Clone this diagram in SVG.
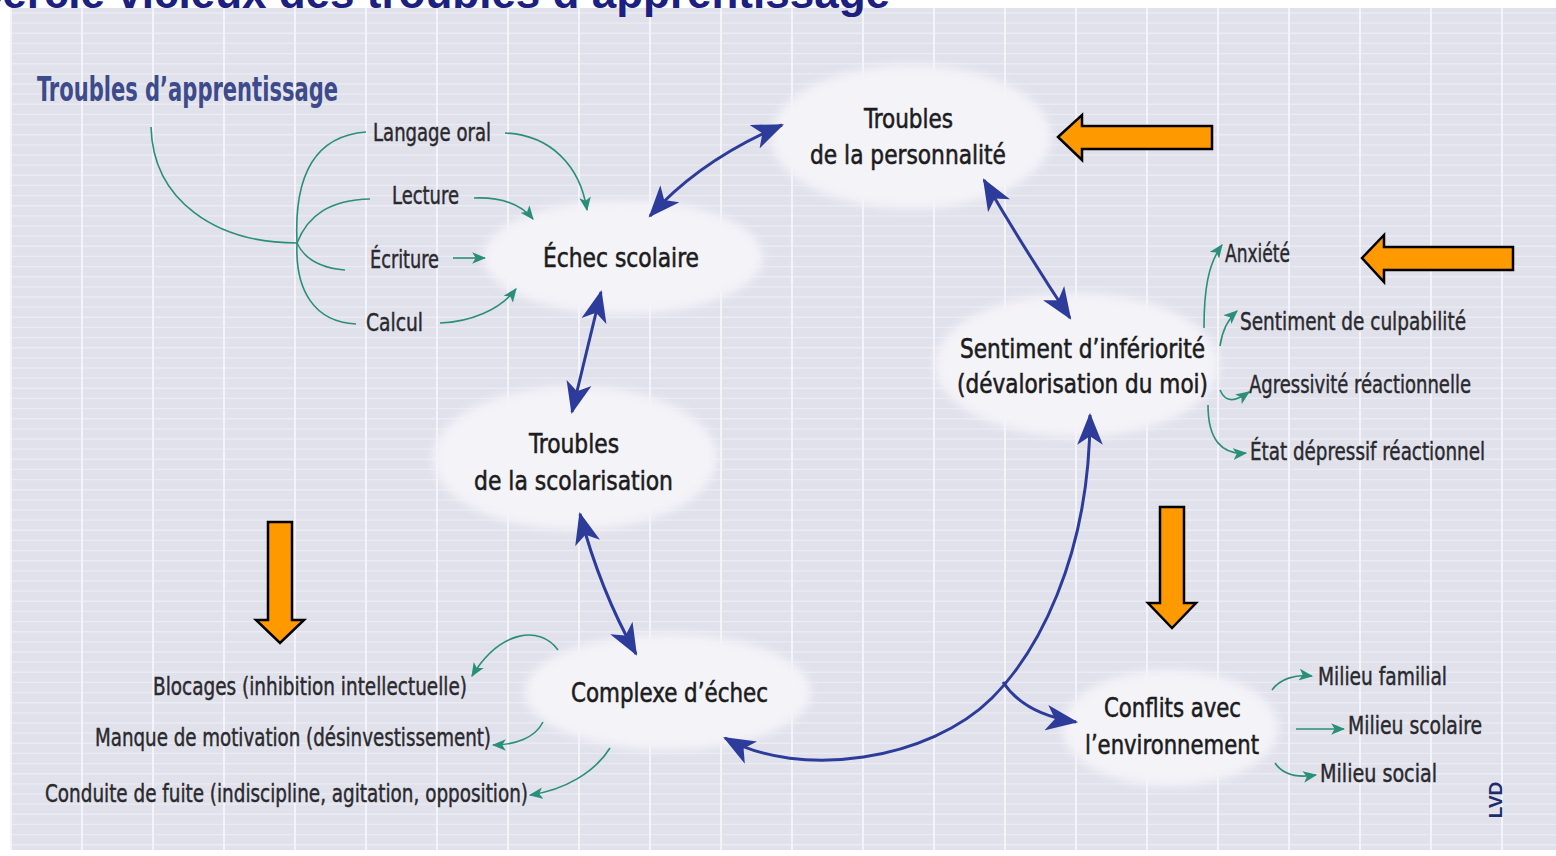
<svg xmlns="http://www.w3.org/2000/svg" width="1556" height="856" viewBox="0 0 1556 856">
<style>
.lbl{font-family:"Liberation Sans Narrow","DejaVu Sans Condensed","Liberation Sans",sans-serif;font-size:25px;fill:#2a2a2e;stroke:#2a2a2e;stroke-width:0.45}
.node{font-family:"Liberation Sans Narrow","DejaVu Sans Condensed","Liberation Sans",sans-serif;font-size:27px;fill:#1c1c20;stroke:#1c1c20;stroke-width:0.55}
.ell{fill:#f4f3f8;filter:url(#soft)}
.teal{fill:none;stroke:#2a8f78;stroke-width:1.6}
.tealA{fill:none;stroke:#2a8f78;stroke-width:1.6;marker-end:url(#tA)}
.blue{fill:none;stroke:#2d3c9a;stroke-width:3;marker-end:url(#bA)}
.blue2{fill:none;stroke:#2d3c9a;stroke-width:3;marker-end:url(#bA);marker-start:url(#bA)}
.orange{fill:#ff9900;stroke:#000;stroke-width:2.5}
</style>
<defs>
<pattern id="grid" patternUnits="userSpaceOnUse" x="10" y="8" width="71" height="71">
<rect width="71" height="71" fill="#e1e1ec"/>
<g stroke="#ebebf3" stroke-width="1.4">
<line x1="0" y1="5" x2="71" y2="5"/><line x1="0" y1="15.1" x2="71" y2="15.1"/><line x1="0" y1="25.3" x2="71" y2="25.3"/><line x1="0" y1="35.4" x2="71" y2="35.4"/><line x1="0" y1="45.6" x2="71" y2="45.6"/><line x1="0" y1="55.7" x2="71" y2="55.7"/><line x1="0" y1="65.9" x2="71" y2="65.9"/>
</g>
<line x1="1" y1="0" x2="1" y2="71" stroke="#f3f3f8" stroke-width="2"/>
</pattern>
<filter id="soft" x="-10%" y="-15%" width="120%" height="130%"><feGaussianBlur stdDeviation="5"/></filter>
<marker id="bA" markerUnits="userSpaceOnUse" viewBox="0 0 30 24" refX="28" refY="12" markerWidth="32" markerHeight="26" orient="auto-start-reverse">
<path d="M0,0 L30,12 L0,24 L8,12 Z" fill="#2d3c9a"/>
</marker>
<marker id="tA" markerUnits="userSpaceOnUse" viewBox="0 0 12 10" refX="11" refY="5" markerWidth="14" markerHeight="12" orient="auto">
<path d="M0,0 L12,5 L0,10 L3,5 Z" fill="#2a8f78"/>
</marker>
</defs>

<rect x="0" y="0" width="1556" height="856" fill="#ffffff"/>
<rect x="10" y="8" width="1546" height="842" fill="url(#grid)"/>

<text x="890" y="8" text-anchor="end" font-family="'Liberation Sans',sans-serif" font-weight="bold" font-size="44" fill="#1c2080">Cercle vicieux des troubles d’apprentissage</text>

<g id="header">
<text x="37" y="101" font-family="'Liberation Sans Narrow','DejaVu Sans Condensed','Liberation Sans',sans-serif" font-weight="bold" font-size="33" fill="#3d4b8b" textLength="301" lengthAdjust="spacingAndGlyphs">Troubles d’apprentissage</text>
</g>

<g id="ellipses">
<g id="n-personnalite"><ellipse class="ell" cx="911" cy="137" rx="140" ry="72"/>
<text class="node" x="864" y="128" textLength="89" lengthAdjust="spacingAndGlyphs">Troubles</text>
<text class="node" x="810" y="164" textLength="196" lengthAdjust="spacingAndGlyphs">de la personnalité</text></g>
<g id="n-echec"><ellipse class="ell" cx="623" cy="257" rx="140" ry="57"/>
<text class="node" x="543" y="267" textLength="156" lengthAdjust="spacingAndGlyphs">Échec scolaire</text></g>
<g id="n-scolarisation"><ellipse class="ell" cx="575" cy="458" rx="142" ry="72"/>
<text class="node" x="529" y="453" textLength="90" lengthAdjust="spacingAndGlyphs">Troubles</text>
<text class="node" x="474" y="490" textLength="199" lengthAdjust="spacingAndGlyphs">de la scolarisation</text></g>
<g id="n-complexe"><ellipse class="ell" cx="668" cy="692" rx="143" ry="58"/>
<text class="node" x="571" y="702" textLength="197" lengthAdjust="spacingAndGlyphs">Complexe d’échec</text></g>
<g id="n-sentiment"><ellipse class="ell" cx="1077" cy="365" rx="142" ry="72"/>
<text class="node" x="960" y="358" textLength="245" lengthAdjust="spacingAndGlyphs">Sentiment d’infériorité</text>
<text class="node" x="957" y="393" textLength="251" lengthAdjust="spacingAndGlyphs">(dévalorisation du moi)</text></g>
<g id="n-conflits"><ellipse class="ell" cx="1170" cy="728" rx="108" ry="58"/>
<text class="node" x="1104" y="717" textLength="137" lengthAdjust="spacingAndGlyphs">Conflits avec</text>
<text class="node" x="1085" y="754" textLength="174" lengthAdjust="spacingAndGlyphs">l’environnement</text></g>
</g>

<g id="labels">
<g id="l-langage"><text class="lbl" x="373" y="141" textLength="118" lengthAdjust="spacingAndGlyphs">Langage oral</text></g>
<g id="l-lecture"><text class="lbl" x="392" y="204" textLength="67" lengthAdjust="spacingAndGlyphs">Lecture</text></g>
<g id="l-ecriture"><text class="lbl" x="370" y="268" textLength="69" lengthAdjust="spacingAndGlyphs">Écriture</text></g>
<g id="l-calcul"><text class="lbl" x="366" y="331" textLength="57" lengthAdjust="spacingAndGlyphs">Calcul</text></g>
<g id="l-anxiete"><text class="lbl" x="1225" y="262" textLength="65" lengthAdjust="spacingAndGlyphs">Anxiété</text></g>
<g id="l-culpabilite"><text class="lbl" x="1240" y="330" textLength="226" lengthAdjust="spacingAndGlyphs">Sentiment de culpabilité</text></g>
<g id="l-agressivite"><text class="lbl" x="1249" y="393" textLength="222" lengthAdjust="spacingAndGlyphs">Agressivité réactionnelle</text></g>
<g id="l-depressif"><text class="lbl" x="1250" y="460" textLength="235" lengthAdjust="spacingAndGlyphs">État dépressif réactionnel</text></g>
<g id="l-familial"><text class="lbl" x="1318" y="685" textLength="129" lengthAdjust="spacingAndGlyphs">Milieu familial</text></g>
<g id="l-scolaire"><text class="lbl" x="1348" y="734" textLength="134" lengthAdjust="spacingAndGlyphs">Milieu scolaire</text></g>
<g id="l-social"><text class="lbl" x="1320" y="782" textLength="117" lengthAdjust="spacingAndGlyphs">Milieu social</text></g>
<g id="l-blocages"><text class="lbl" x="153" y="695" textLength="314" lengthAdjust="spacingAndGlyphs">Blocages (inhibition intellectuelle)</text></g>
<g id="l-manque"><text class="lbl" x="95" y="746" textLength="396" lengthAdjust="spacingAndGlyphs">Manque de motivation (désinvestissement)</text></g>
<g id="l-conduite"><text class="lbl" x="45" y="802" textLength="483" lengthAdjust="spacingAndGlyphs">Conduite de fuite (indiscipline, agitation, opposition)</text></g>
</g>

<g id="connectors">
<path class="teal" d="M151,127 C153,200 215,243 297,243"/>
<path class="teal" d="M297,243 C294,180 312,136 366,132"/>
<path class="teal" d="M297,243 C308,215 330,200 370,199"/>
<path class="teal" d="M297,243 C304,258 320,268 345,270"/>
<path class="teal" d="M297,243 C295,290 314,322 356,324"/>
<path class="tealA" d="M505,133 C550,135 580,165 587,210"/>
<path class="tealA" d="M474,198 C500,197 520,203 533,219"/>
<path class="tealA" d="M453,258 L485,258"/>
<path class="tealA" d="M440,323 C470,322 500,310 516,289"/>
<path class="tealA" d="M1204,328 C1204,290 1208,264 1222,245"/>
<path class="tealA" d="M1220,346 C1222,332 1227,320 1237,311"/>
<path class="tealA" d="M1220,390 C1226,404 1236,401 1249,392"/>
<path class="tealA" d="M1208,405 C1208,440 1222,455 1246,453"/>
<path class="tealA" d="M1272,690 C1280,679 1295,674 1312,676"/>
<path class="tealA" d="M1296,729 L1344,729"/>
<path class="tealA" d="M1275,763 C1283,775 1298,778 1316,775"/>
<path class="tealA" d="M558,650 C540,625 500,630 472,676"/>
<path class="tealA" d="M543,722 C535,738 515,745 493,745"/>
<path class="tealA" d="M610,748 C595,772 565,790 530,795"/>

<path class="blue2" d="M650,216 Q700,160 782,125"/>
<path class="blue2" d="M601,292 L572,412"/>
<path class="blue2" d="M580,514 Q600,590 636,654"/>
<path class="blue2" d="M984,180 Q1025,250 1070,318"/>
<path class="blue2" d="M1090,415 C1090,560 1035,655 992,698 C930,760 800,780 725,738"/>
<path class="blue" d="M1003,682 C1018,705 1042,717 1076,722"/>
</g>

<g id="highlights">
<polygon class="orange" points="1058,137 1082,115 1082,126 1212,126 1212,149 1082,149 1082,160"/>
<polygon class="orange" points="1362,258 1384,235 1384,247 1513,247 1513,270 1384,270 1384,282"/>
<polygon class="orange" points="268,522 292,522 292,620 304,620 280,643 256,620 268,620"/>
<polygon class="orange" points="1160,507 1184,507 1184,603 1196,603 1172,628 1148,603 1160,603"/>
</g>

<text x="1502" y="800" transform="rotate(-90 1502 800)" text-anchor="middle" font-family="'Liberation Sans',sans-serif" font-weight="bold" font-size="19" fill="#1c2a6e">LVD</text>
</svg>
